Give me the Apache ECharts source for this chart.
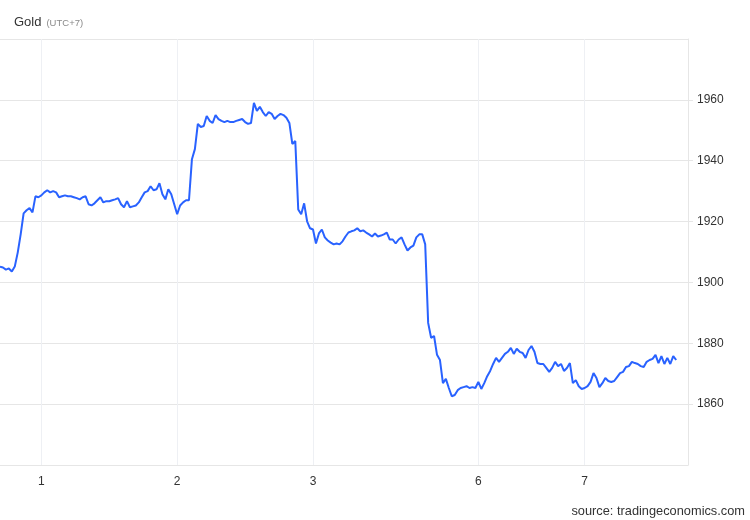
<!DOCTYPE html>
<html>
<head>
<meta charset="utf-8">
<script src="https://cdn.jsdelivr.net/npm/echarts@6/dist/echarts.min.js"></script>
<style>html,body{margin:0;padding:0;background:#fff}#c{width:750px;height:520px}</style>
</head>
<body>
<div id="c"></div>
<script>
// Trading sessions (UTC+7): day label, start hour, end hour; 30-minute steps
const sessions = [
  ['09-30', 17, 24],
  ['10-01', 0, 23],
  ['10-02', 0, 23],
  ['10-03', 0, 24],
  ['10-04', 0, 4],
  ['10-06', 6, 24],
  ['10-07', 0, 18]
];
const labelDays = ['10-01', '10-02', '10-03', '10-06', '10-07'];
const dayText = {'10-01': '1', '10-02': '2', '10-03': '3', '10-06': '6', '10-07': '7'};

const prices = [
  1905.2,1904.9,1904.2,1904.6,1903.6,1905.2,1909.8,1915.8,1922.7,1923.7,
  1924.4,1923.0,1928.3,1928.0,1928.6,1929.6,1930.3,1929.6,1930.0,1929.6,
  1928.0,1928.3,1928.6,1928.3,1928.3,1928.0,1927.7,1927.3,1928.0,1928.3,
  1925.7,1925.3,1926.0,1927.0,1928.0,1926.3,1926.7,1926.7,1927.0,1927.3,
  1927.7,1925.7,1924.7,1926.7,1924.7,1925.0,1925.3,1926.3,1928.0,1929.6,
  1930.0,1931.6,1930.3,1930.6,1932.6,1929.0,1927.3,1930.6,1929.0,1925.7,
  1922.4,1925.3,1926.3,1927.0,1927.0,1940.5,1943.8,1952.1,1951.1,1951.4,
  1954.7,1953.1,1952.4,1955.0,1953.7,1953.1,1952.7,1953.1,1952.7,1952.7,
  1953.1,1953.4,1953.7,1952.7,1952.1,1952.4,1959.0,1956.4,1957.7,1956.0,
  1954.7,1956.0,1955.4,1953.7,1954.7,1955.4,1955.0,1954.1,1952.4,1945.5,
  1946.5,1924.0,1922.4,1926.0,1920.1,1917.8,1917.4,1912.8,1916.1,1917.4,
  1914.8,1913.8,1913.1,1912.5,1912.8,1912.5,1913.5,1915.1,1916.4,1916.8,
  1917.1,1917.8,1916.8,1917.1,1916.4,1915.8,1915.1,1916.1,1915.1,1915.4,
  1915.8,1916.4,1914.1,1914.1,1912.8,1914.1,1914.8,1912.5,1910.5,1911.5,
  1912.1,1914.8,1915.8,1915.8,1912.5,1886.7,1881.8,1882.4,1876.2,1874.5,
  1866.9,1868.3,1865.3,1862.6,1863.0,1864.6,1865.3,1865.6,1865.9,1865.3,
  1865.6,1865.3,1867.3,1865.0,1866.9,1869.2,1870.9,1873.2,1875.2,1873.9,
  1875.2,1876.5,1877.2,1878.5,1876.5,1878.2,1877.2,1876.8,1875.2,1877.8,
  1879.1,1877.2,1873.5,1873.2,1873.2,1871.9,1870.6,1871.9,1873.9,1872.5,
  1873.2,1870.9,1871.9,1873.5,1866.9,1867.9,1865.9,1865.0,1865.3,1865.9,
  1867.3,1870.2,1868.6,1865.6,1866.9,1868.6,1867.6,1867.3,1867.6,1868.9,
  1870.2,1870.6,1872.2,1872.5,1873.9,1873.5,1873.2,1872.5,1872.2,1873.9,
  1874.5,1874.9,1876.2,1873.5,1875.8,1873.2,1875.2,1873.2,1875.8,1874.5
];

const yMin = 1840, yMax = 1980, yStep = 20;

// build category labels from the sessions
const categories = [];
const labelIdx = new Set();
sessions.forEach(([d, h0, h1]) => {
  for (let m = h0 * 60; m < h1 * 60; m += 30) {
    const hh = String(Math.floor(m / 60)).padStart(2, '0');
    const mm = String(m % 60).padStart(2, '0');
    if (m === h0 * 60 && labelDays.includes(d)) labelIdx.add(categories.length);
    categories.push(d + ' ' + hh + ':' + mm);
  }
});
const series = categories.map((c, i) => (i < prices.length ? prices[i] : null));

const chart = echarts.init(document.getElementById('c'), null, {renderer: 'canvas'});
const FONT = '"Liberation Sans", Arial, Helvetica, sans-serif';
chart.setOption({
  animation: false,
  backgroundColor: '#ffffff',
  title: {
    left: 14, top: 13, padding: 0,
    text: '{a|Gold} {b|(UTC+7)}',
    textStyle: {
      fontWeight: 'normal',
      rich: {
        a: {fontSize: 13, color: '#333333', fontFamily: FONT, fontWeight: 'normal'},
        b: {fontSize: 9.5, color: '#8a8a8a', fontFamily: FONT, fontWeight: 'normal', padding: [2, 0, 0, 0]}
      }
    }
  },
  graphic: [{
    type: 'text', right: 5, bottom: 2,
    style: {text: 'source: tradingeconomics.com', fontSize: 12.8, fill: '#333333', fontFamily: FONT}
  }],
  grid: {left: 0, right: 62, top: 39, bottom: 55, containLabel: false},
  xAxis: {
    type: 'category',
    data: categories,
    boundaryGap: false,
    axisLine: {show: true, lineStyle: {color: '#e6e6e6', width: 1}},
    axisTick: {show: false},
    axisLabel: {
      interval: (i) => labelIdx.has(i),
      formatter: (v) => dayText[v.slice(0, 5)] || '',
      color: '#333333', fontSize: 12, fontFamily: FONT, margin: 11
    },
    splitLine: {show: true, interval: (i) => labelIdx.has(i), lineStyle: {color: '#eef0f4', width: 1}}
  },
  yAxis: {
    type: 'value',
    position: 'right',
    min: yMin, max: yMax, interval: yStep,
    axisLine: {show: true, lineStyle: {color: '#e6e6e6'}},
    axisTick: {show: true, length: 5, lineStyle: {color: '#e6e6e6'}},
    axisLabel: {
      showMinLabel: false, showMaxLabel: false,
      formatter: (v) => String(v),
      color: '#333333', fontSize: 12, fontFamily: FONT, margin: 9
    },
    splitLine: {show: true, lineStyle: {color: '#e6e6e6', width: 1}}
  },
  series: [{
    type: 'line',
    data: series,
    showSymbol: false,
    symbol: 'none',
    connectNulls: false,
    lineStyle: {color: '#2962ff', width: 2},
    itemStyle: {color: '#2962ff'}
  }]
});
</script>
</body>
</html>
